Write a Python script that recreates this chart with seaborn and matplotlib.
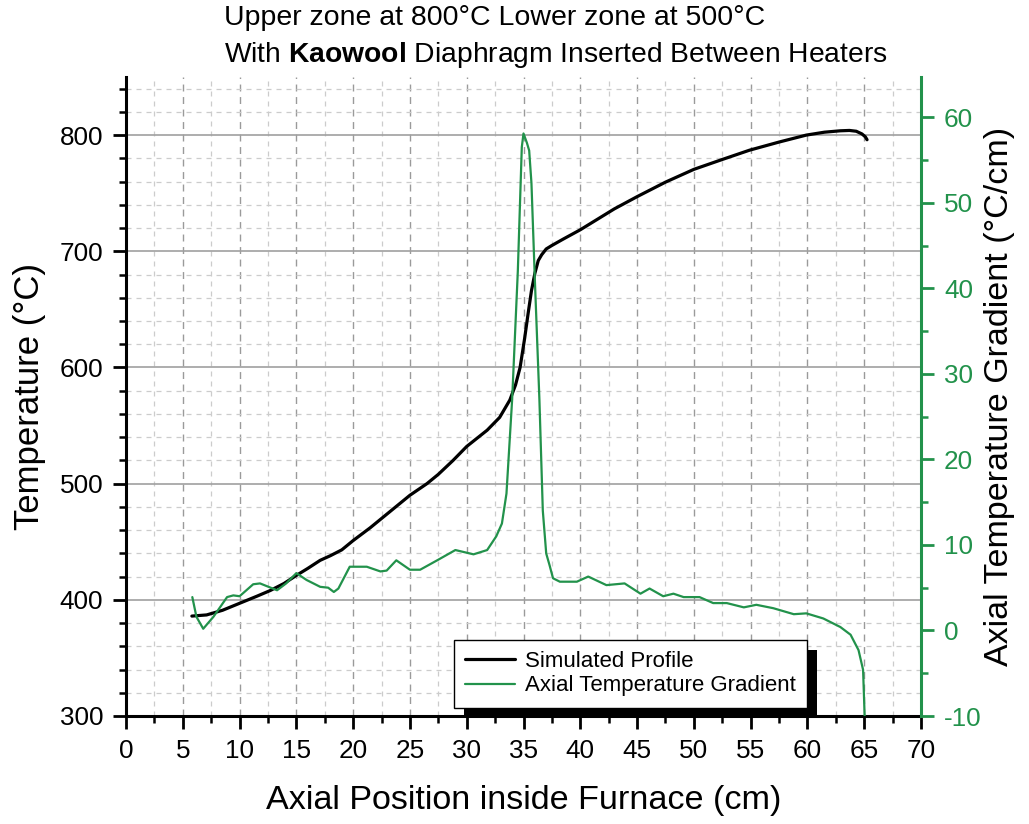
import numpy as np
import pandas as pd
import matplotlib
matplotlib.use("Agg")
import matplotlib.pyplot as plt
import seaborn as sns
from matplotlib.ticker import MultipleLocator
from matplotlib.patches import Rectangle

# ---- data ----
pos_sim = [5.8, 7.1, 8.5, 10.0, 11.5, 12.7, 13.9, 15.0, 16.0, 17.1, 18.0, 19.0, 20.0,
           21.5, 23.0, 24.0, 25.0, 26.5, 27.5, 28.8, 30.0, 31.8, 32.9, 33.8, 34.3,
           34.7, 35.1, 35.4, 35.7, 36.0, 36.3, 36.6, 37.0, 37.5, 38.5, 40.0, 41.0,
           42.0, 43.0, 45.0, 47.5, 50.0, 52.5, 54.9, 57.5, 59.9, 61.5, 62.9, 63.7, 64.3,
           64.8, 65.1, 65.25]
temp_sim = [386, 387, 391, 397, 403, 408, 414, 421, 427, 434, 438, 443, 451,
            462, 474, 482, 490, 500, 508, 520, 532, 546, 557, 572, 585,
            600, 625, 646, 666, 681, 692, 697, 702, 705, 710.5, 718.5, 724.5,
            730.5, 736.5, 747, 759.5, 770.5, 779, 787, 794, 800, 802.5, 803.7, 804, 803.3,
            801, 798.5, 796]

pos_grad = [5.84, 6.2, 6.8, 7.7, 8.9, 9.45, 10.0, 11.2, 11.8, 13.3, 14.1, 15.0, 15.9,
            17.1, 17.8, 18.3, 18.7, 19.7, 21.2, 22.4, 22.95, 23.8, 25.0, 25.9, 27.4,
            29.0, 30.6, 31.8, 32.6, 33.1, 33.5, 34.0, 34.5, 34.85, 35.0, 35.3, 35.5,
            35.7, 36.0, 36.4, 36.7, 37.0, 37.3, 37.6, 38.2, 39.7, 40.7, 42.3, 43.9,
            45.3, 46.1, 47.3, 48.2, 49.1, 50.5, 51.7, 52.9, 54.4, 55.5, 57.0, 58.8,
            59.9, 61.4, 62.9, 63.8, 64.5, 64.9, 65.05]
grad = [3.9, 1.6, 0.2, 1.6, 3.9, 4.1, 4.0, 5.4, 5.5, 4.7, 5.5, 6.7, 5.9,
        5.1, 5.0, 4.5, 4.9, 7.45, 7.45, 6.9, 7.0, 8.2, 7.1, 7.1, 8.2,
        9.4, 8.9, 9.4, 11.0, 12.5, 16.0, 27.0, 42.0, 56.5, 58.1, 57.0, 56.1,
        52.3, 41.0, 27.0, 14.0, 9.0, 7.6, 6.1, 5.7, 5.7, 6.3, 5.3, 5.5,
        4.3, 4.9, 4.0, 4.3, 3.9, 3.9, 3.2, 3.2, 2.7, 3.0, 2.6, 1.9,
        2.0, 1.4, 0.4, -0.5, -2.3, -4.6, -10.5]

title_line1 = "Upper zone at 800°C Lower zone at 500°C"
title_line2 = r"With $\mathbf{Kaowool}$ Diaphragm Inserted Between Heaters"
label_sim = "Simulated Profile"
label_grad = "Axial Temperature Gradient"

df_sim = pd.DataFrame({"pos": pos_sim, "temp": temp_sim})
df_grad = pd.DataFrame({"pos": pos_grad, "grad": grad})

# ---- style ----
sns.set_theme(style="white")
plt.rcParams["font.family"] = ["Liberation Sans", "DejaVu Sans"]
plt.rcParams["mathtext.fontset"] = "custom"
plt.rcParams["mathtext.rm"] = "Liberation Sans"
plt.rcParams["mathtext.bf"] = "Liberation Sans:bold"
plt.rcParams["text.color"] = "black"
plt.rcParams["axes.labelcolor"] = "black"
plt.rcParams["xtick.color"] = "black"
plt.rcParams["ytick.color"] = "black"
plt.rcParams["axes.unicode_minus"] = False

GREEN = "#22924b"

fig = plt.figure(figsize=(10.29, 8.24), dpi=100)
ax = fig.add_axes([126/1029, 1-716/824, (921-126)/1029, (716-77)/824])
ax2 = ax.twinx()

sns.lineplot(data=df_sim, x="pos", y="temp", ax=ax, color="black", lw=2.3,
             label=label_sim, legend=False, sort=False)
sns.lineplot(data=df_grad, x="pos", y="grad", ax=ax2, color=GREEN, lw=1.6,
             label=label_grad, legend=False, sort=False)

ax.set_xlim(0, 70)
ax.set_ylim(300, 850)
ax2.set_ylim(-10, 64.7)

ax.xaxis.set_major_locator(MultipleLocator(5))
ax.xaxis.set_minor_locator(MultipleLocator(2.5))
ax.yaxis.set_major_locator(MultipleLocator(100))
ax.yaxis.set_minor_locator(MultipleLocator(20))
ax2.yaxis.set_major_locator(MultipleLocator(10))
ax2.yaxis.set_minor_locator(MultipleLocator(5))

# grids
ax.set_axisbelow(True)
ax.grid(False)
ax2.grid(False)
ax.xaxis.grid(True, which="major", color="#9a9a9a", ls=(0, (5, 4)), lw=1.0)
ax.xaxis.grid(True, which="minor", color="#cccccc", ls=(0, (4, 4)), lw=0.9)
ax.yaxis.grid(True, which="major", color="#a0a0a0", ls="-", lw=1.2)
ax.yaxis.grid(True, which="minor", color="#cccccc", ls=(0, (4, 4)), lw=0.9)

# spines
for a in (ax, ax2):
    a.spines["top"].set_visible(False)
ax.spines["left"].set_color("black")
ax.spines["left"].set_linewidth(2.2)
ax.spines["bottom"].set_color("black")
ax.spines["bottom"].set_linewidth(2.2)
ax.spines["right"].set_visible(False)
ax2.spines["left"].set_visible(False)
ax2.spines["bottom"].set_visible(False)
ax2.spines["right"].set_color(GREEN)
ax2.spines["right"].set_linewidth(2.2)

ax.tick_params(axis="both", which="major", direction="out", length=9.5, width=2,
               color="black", labelsize=18.8, labelcolor="black", pad=7,
               left=True, bottom=True)
ax.tick_params(axis="both", which="minor", direction="out", length=5, width=1.8,
               color="black", left=True, bottom=True)
ax2.tick_params(axis="y", which="major", direction="out", length=9.5, width=2,
                color=GREEN, labelsize=18.8, labelcolor=GREEN, pad=7, right=True)
ax2.tick_params(axis="y", which="minor", direction="out", length=5, width=1.8,
                color=GREEN, right=True)

ax.set_xlabel("Axial Position inside Furnace (cm)", fontsize=24.6, labelpad=16)
ax.set_ylabel("Temperature (°C)", fontsize=25, labelpad=10)
ax2.set_ylabel("Axial Temperature Gradient (°C/cm)", fontsize=24.5, labelpad=2, color="black")

fig.text(224/1029, 1-18/824, title_line1, fontsize=20.5, ha="left", va="center")
fig.text(224/1029, 1-55/824, title_line2, fontsize=20.3, ha="left", va="center")

# legend
h1, l1 = ax.get_legend_handles_labels()
h2, l2 = ax2.get_legend_handles_labels()
leg = ax2.legend(h1 + h2, l1 + l2, loc="upper left",
                 bbox_to_anchor=(454/1029, 1-640/824), bbox_transform=fig.transFigure,
                 borderaxespad=0, fancybox=False, framealpha=1, edgecolor="black",
                 fontsize=16, handlelength=2.25, handletextpad=0.45,
                 borderpad=0.5, labelspacing=0.15)
leg.get_frame().set_linewidth(1.0)
leg.set_zorder(10)

fig.canvas.draw()
bb = leg.get_window_extent()
inv = ax2.transAxes.inverted()
(x0, y0) = inv.transform((bb.x0 + 10, bb.y0 - 10))
(x1, y1) = inv.transform((bb.x1 + 10, bb.y1 - 10))
shadow = Rectangle((x0, y0), x1 - x0, y1 - y0, transform=ax2.transAxes,
                   facecolor="black", edgecolor="none", zorder=9, clip_on=False)
ax2.add_patch(shadow)

fig.savefig("out.png", dpi=100)
